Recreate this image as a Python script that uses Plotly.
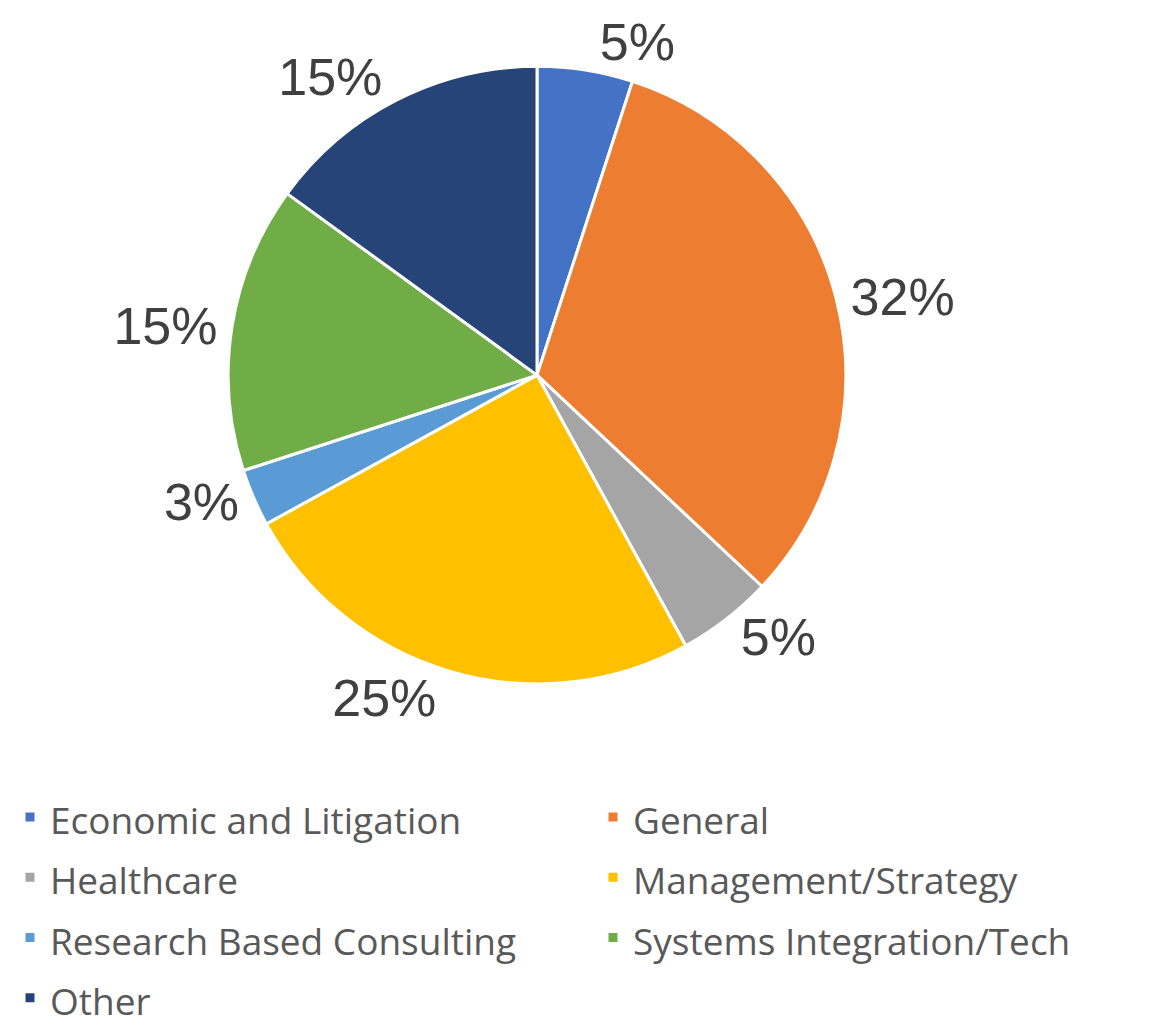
import plotly.graph_objects as go

categories = ["Economic and Litigation", "General", "Healthcare", "Management/Strategy",
              "Research Based Consulting", "Systems Integration/Tech", "Other"]
values = [5, 32, 5, 25, 3, 15, 15]
colors = ["#4472C4", "#ED7D31", "#A5A5A5", "#FFC000", "#5B9BD5", "#70AD47", "#264478"]

W, H = 1168, 1025
cx, cy, r = 529, 356, 314

# legend row spacing comes from the legend font size; the visible text is drawn smaller
legend_labels = [f"<span style='font-size:37px'>{c}</span>" for c in categories]

fig = go.Figure(go.Pie(
    labels=legend_labels,
    values=values,
    sort=False,
    direction="clockwise",
    rotation=0,
    marker=dict(colors=colors, line=dict(color="white", width=3)),
    texttemplate="%{percent:.0%}",
    textposition="outside",
    outsidetextfont=dict(family="Liberation Sans, Arial", size=52, color="#404040"),
    domain=dict(x=[(cx - r) / W, (cx + r) / W], y=[(H - cy - r) / H, (H - cy + r) / H]),
    customdata=categories,
    hovertemplate="%{customdata}: %{percent}<extra></extra>",
))

fig.update_layout(
    width=W, height=H,
    margin=dict(l=0, r=0, t=0, b=0),
    paper_bgcolor="white",
    plot_bgcolor="white",
    showlegend=True,
    legend=dict(
        orientation="h",
        x=0.012, xanchor="left",
        y=0.0, yanchor="bottom",
        entrywidth=538, entrywidthmode="pixels",
        font=dict(family="Open Sans", size=44, color="#595959"),
        traceorder="normal",
    ),
)

fig.write_html("out.html")
